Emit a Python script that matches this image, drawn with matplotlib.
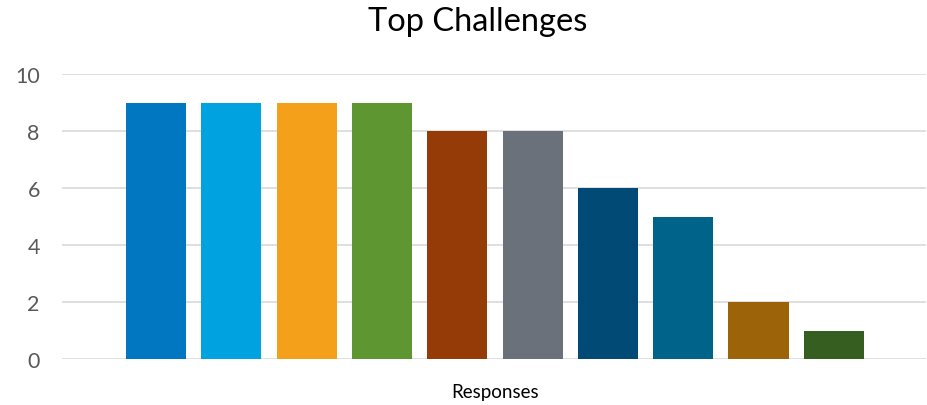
import matplotlib
matplotlib.use("Agg")
import matplotlib.pyplot as plt

plt.rcParams['font.family'] = ['Lato', 'DejaVu Sans']

challenges = [f"Challenge {i+1}" for i in range(10)]
values = [9, 9, 9, 9, 8, 8, 6, 5, 2, 1]
colors = ["#0077C0", "#00A3E0", "#F5A01A", "#5E9732", "#943B07",
          "#6B717A", "#004A75", "#006389", "#9C6308", "#375E21"]
category_label = "Responses"
title = "Top Challenges"
yticks = [0, 2, 4, 6, 8, 10]

fig = plt.figure(figsize=(9.28, 4.06), dpi=100)
ax = fig.add_axes([62/928, 1-360/406, 864/928, 285/406])

for i, (name, v, c) in enumerate(zip(challenges, values, colors)):
    ax.bar(i, v, width=0.8, color=c, zorder=3, label=name)

ax.set_xlim(-1.248, 10.222)
ax.set_ylim(0, 10)
ax.set_yticks(yticks)
ax.set_xticks([])
ax.grid(axis='y', color='#D9D9D9', linewidth=1.2, zorder=0)
for s in ax.spines.values():
    s.set_visible(False)
ax.tick_params(axis='y', length=0, labelsize=15.5, labelcolor='#595959', pad=16)

fig.text(478/928, 1-22/406, title, ha='center', va='center', fontsize=23.5, color='black')
fig.text(495/928, 1-393/406, category_label, ha='center', va='center', fontsize=13.5,
         color='black', fontstretch='expanded')
t = fig.texts[-1]

fig.savefig("out.png", dpi=100)
